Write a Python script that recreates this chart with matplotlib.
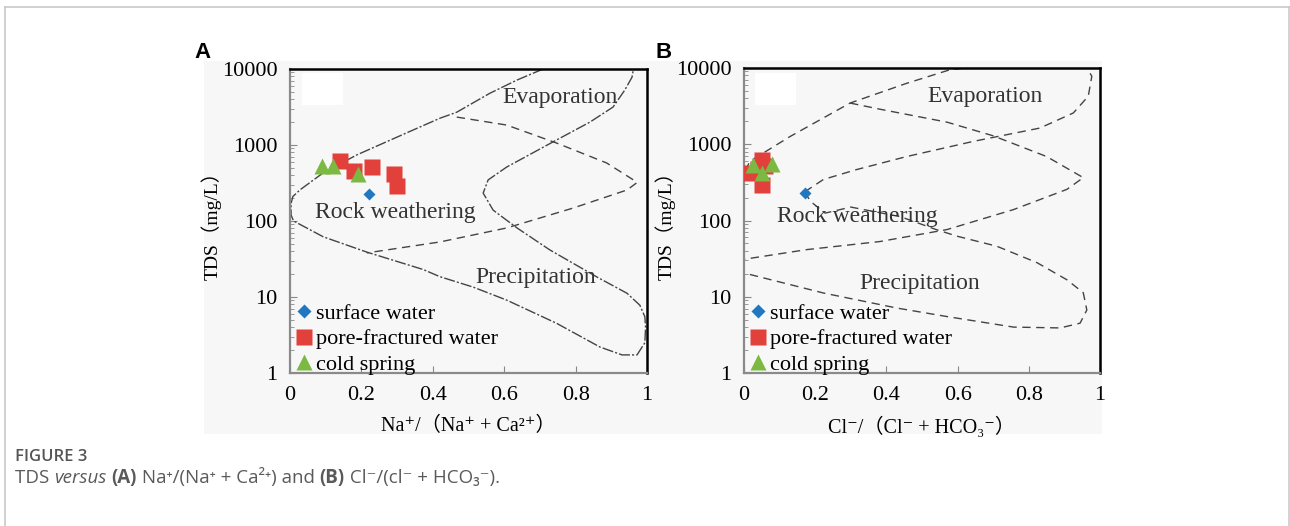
import matplotlib
matplotlib.use('Agg')
import matplotlib.pyplot as plt
from matplotlib.lines import Line2D
from matplotlib.patches import Rectangle

W, H = 1290, 526

# ---- data ----
X_TICKS = [0, 0.2, 0.4, 0.6, 0.8, 1]
X_TICK_LABELS = ['0', '0.2', '0.4', '0.6', '0.8', '1']
Y_TICKS = [1, 10, 100, 1000, 10000]
Y_TICK_LABELS = ['1', '10', '100', '1000', '10000']

# panel A: Na+/(Na+ + Ca2+)
A_SURFACE_X = [0.22]
A_SURFACE_Y = [230]
A_PORE_X = [0.14, 0.18, 0.23, 0.29, 0.30]
A_PORE_Y = [620, 460, 510, 415, 290]
A_SPRING_X = [0.09, 0.12, 0.19]
A_SPRING_Y = [530, 530, 420]

# panel B: Cl-/(Cl- + HCO3-)
B_SURFACE_X = [0.17]
B_SURFACE_Y = [232]
B_PORE_X = [0.05, 0.01, 0.06, 0.04, 0.05]
B_PORE_Y = [620, 420, 520, 470, 295]
B_SPRING_X = [0.025, 0.08, 0.05]
B_SPRING_Y = [540, 550, 420]

# Gibbs boundaries
A_OUTER_X = [0.709, 0.636, 0.56, 0.467, 0.42, 0.326, 0.187, 0.093, 0.028, 0.008,
             0.003, 0.003, 0.01, 0.093, 0.215, 0.373, 0.42, 0.513, 0.607, 0.747,
             0.868, 0.93, 0.972, 0.994, 0.996, 0.994, 0.98, 0.944, 0.86, 0.728,
             0.636, 0.569, 0.541, 0.555, 0.607, 0.737, 0.84, 0.905, 0.938, 0.958, 0.962]
A_OUTER_Y = [10000, 7160, 4800, 2700, 2250, 1440, 740, 430, 257, 210,
             170, 120, 100, 62, 39, 23, 18.5, 13.5, 9.1, 4.5,
             2.2, 1.73, 1.73, 2.5, 4.0, 5.5, 7.8, 11.2, 18.3, 41.6,
             81, 139, 233, 347, 513, 1100, 2000, 3160, 5300, 7800, 10000]
A_INNER_X = [0.467, 0.607, 0.747, 0.887, 0.965, 0.972, 0.944, 0.793, 0.607, 0.42, 0.215]
A_INNER_Y = [2330, 1830, 1060, 580, 340, 320, 256, 148, 81, 53, 38]

B_OUTER_X = [0.003, 0.017, 0.129, 0.298, 0.457, 0.579, 0.62, 0.963, 0.977, 0.967,
             0.925, 0.831, 0.644, 0.457, 0.316, 0.223, 0.169]
B_OUTER_Y = [450, 600, 1260, 3470, 6300, 9500, 10000, 10000, 7800, 4260,
             2570, 1630, 1090, 690, 465, 345, 235]
B_PRECIP_X = [0.169, 0.19, 0.228, 0.30, 0.44, 0.54, 0.60, 0.71, 0.823, 0.907,
              0.953, 0.963, 0.944, 0.888, 0.757, 0.57, 0.43, 0.223, 0.0]
B_PRECIP_Y = [235, 173, 125, 150, 112, 76, 62, 46, 28, 16.7,
              11.3, 6.7, 4.5, 3.9, 4.0, 5.5, 7.1, 11.2, 20.5]
B_INNER_X = [0.298, 0.382, 0.57, 0.70, 0.85, 0.953, 0.907, 0.757, 0.57, 0.382, 0.176, 0.0]
B_INNER_Y = [3470, 2880, 1950, 1290, 690, 365, 256, 139, 76, 53, 41.5, 31]

LABELS = ['surface water', 'pore-fractured water', 'cold spring']
COLORS = {'surface': '#1f78c0', 'pore': '#e2403b', 'spring': '#7cb943'}

SERIF = ['Liberation Serif', 'DejaVu Serif', 'Noto Sans CJK SC']
SANS = ['Open Sans', 'DejaVu Sans']
BG = '#f7f7f7'


def fx(x):
    return x / W


def fy(y):
    return 1 - y / H


def draw_panel(fig, rect, sx, sy, px, py, tx, ty, curves, texts, xlabel):
    ax = fig.add_axes(rect)
    ax.set_facecolor('none')
    ax.set_yscale('log')

    for (cx, cy, ls) in curves:
        ax.plot(cx, cy, color='#444444', lw=1.0, ls=ls, zorder=2)

    ax.plot(sx, sy, ls='none', marker='D', ms=6.5, mfc=COLORS['surface'], mec='none', zorder=4)
    ax.plot(px, py, ls='none', marker='s', ms=11, mfc=COLORS['pore'], mec='none', zorder=3)
    ax.plot(tx, ty, ls='none', marker='^', ms=12, mfc=COLORS['spring'], mec='none', zorder=5)

    for (x, y, s, ha) in texts:
        ax.text(x, y, s, ha=ha, va='center', fontsize=17, color='#333333',
                family=SERIF, zorder=6)

    ax.set_xlim(0, 1)
    ax.set_ylim(1, 10000)
    ax.set_xticks(X_TICKS)
    ax.set_xticklabels(X_TICK_LABELS, family=SERIF, fontsize=16)
    ax.set_yticks(Y_TICKS)
    ax.set_yticklabels(Y_TICK_LABELS, family=SERIF, fontsize=16)
    ax.tick_params(axis='x', direction='in', length=5, color='#888888', pad=9)
    ax.tick_params(axis='y', which='major', direction='in', length=5, color='#888888', pad=9)
    ax.tick_params(axis='y', which='minor', direction='in', length=3, color='#888888')

    for side in ('top', 'right'):
        ax.spines[side].set_color('black')
        ax.spines[side].set_linewidth(1.8)
    for side in ('left', 'bottom'):
        ax.spines[side].set_color('#8a8a8a')
        ax.spines[side].set_linewidth(1.6)

    ax.set_xlabel(xlabel, family=SERIF, fontsize=14.5, labelpad=9)
    ax.set_ylabel('TDS（mg/L）', family=SERIF, fontsize=14, labelpad=0)

    handles = [
        Line2D([], [], ls='none', marker='D', ms=7, mfc=COLORS['surface'], mec='none'),
        Line2D([], [], ls='none', marker='s', ms=11, mfc=COLORS['pore'], mec='none'),
        Line2D([], [], ls='none', marker='^', ms=12, mfc=COLORS['spring'], mec='none'),
    ]
    ax.legend(handles, LABELS, loc='lower left', bbox_to_anchor=(-0.022, -0.05),
              frameon=False, handlelength=0.8, handletextpad=0.12,
              labelspacing=0.22, borderaxespad=0.2,
              prop={'family': SERIF, 'size': 16})
    return ax


def caption_runs(fig, x, y, runs, **kw):
    # place text pieces one after another on a line
    renderer = fig.canvas.get_renderer()
    for s, extra in runs:
        t = fig.text(x, y, s, va='baseline', ha='left', **kw, **extra)
        bb = t.get_window_extent(renderer)
        x += bb.width / W


def main():
    fig = plt.figure(figsize=(W / 100, H / 100), dpi=100)
    fig.patch.set_facecolor('white')

    # page frame and picture background
    frame = '#c9c9c9'
    fig.add_artist(Line2D([fx(4.5), fx(4.5)], [0, fy(7)], color=frame, lw=1.2))
    fig.add_artist(Line2D([fx(4.5), fx(1288.5)], [fy(7), fy(7)], color=frame, lw=1.2))
    fig.add_artist(Line2D([fx(1288.5), fx(1288.5)], [0, fy(7)], color=frame, lw=1.2))
    fig.add_artist(Rectangle((fx(204), fy(434)), (1102 - 204) / W, (434 - 61) / H,
                             transform=fig.transFigure, facecolor=BG, edgecolor='none', zorder=-2))
    for x0 in (302, 755):
        fig.add_artist(Rectangle((fx(x0), fy(105)), 41 / W, 32 / H,
                                 transform=fig.transFigure, facecolor='white',
                                 edgecolor='none', zorder=-1))

    a_curves = [(A_OUTER_X, A_OUTER_Y, (0, (8, 1.5, 1.5, 1.5))),
                (A_INNER_X, A_INNER_Y, (0, (6, 4)))]
    a_texts = [(0.756, 4170, 'Evaporation', 'center'),
               (0.07, 131, 'Rock weathering', 'left'),
               (0.689, 18.3, 'Precipitation', 'center')]
    draw_panel(fig, [fx(290), fy(373), (647 - 290) / W, (373 - 69) / H],
               A_SURFACE_X, A_SURFACE_Y, A_PORE_X, A_PORE_Y, A_SPRING_X, A_SPRING_Y,
               a_curves, a_texts, 'Na⁺/（Na⁺ + Ca²⁺）')

    b_curves = [(B_OUTER_X, B_OUTER_Y, (0, (6, 4))), (B_PRECIP_X, B_PRECIP_Y, (0, (6, 4))),
                (B_INNER_X, B_INNER_Y, (0, (6, 4)))]
    b_texts = [(0.677, 4170, 'Evaporation', 'center'),
               (0.093, 113, 'Rock weathering', 'left'),
               (0.493, 15, 'Precipitation', 'center')]
    draw_panel(fig, [fx(744), fy(373), (1100 - 744) / W, (373 - 68) / H],
               B_SURFACE_X, B_SURFACE_Y, B_PORE_X, B_PORE_Y, B_SPRING_X, B_SPRING_Y,
               b_curves, b_texts, 'Cl⁻/（Cl⁻ + HCO₃⁻）')

    # panel letters
    fig.text(fx(202), fy(52), 'A', ha='center', va='center', fontsize=16,
             fontweight='bold', family='Liberation Sans')
    fig.text(fx(664), fy(52), 'B', ha='center', va='center', fontsize=16,
             fontweight='bold', family='Liberation Sans')

    # caption
    fig.text(fx(15), fy(461), 'FIGURE 3', ha='left', va='baseline', fontsize=12,
             fontweight='semibold', color='#555555', family=SANS)
    caption_runs(fig, fx(15), fy(483), [
        ('TDS ', {}), ('versus', {'style': 'italic'}), (' ', {}),
        ('(A)', {'fontweight': 'bold'}), (' Na⁺/(Na⁺ + Ca²⁺) and ', {}),
        ('(B)', {'fontweight': 'bold'}), (' Cl⁻/(cl⁻ + HCO₃⁻).', {}),
    ], fontsize=13.5, color='#5a5a5a', family=SANS)

    fig.savefig('out.png', dpi=100)


if __name__ == '__main__':
    main()
